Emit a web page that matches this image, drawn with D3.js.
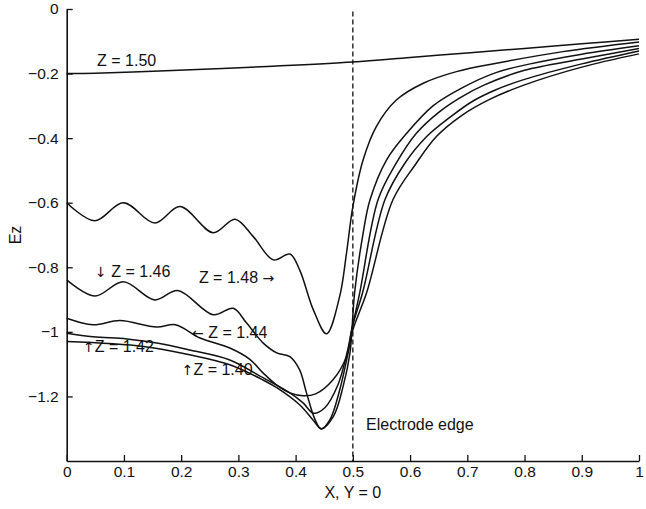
<!DOCTYPE html>
<html>
<head>
<meta charset="utf-8">
<script src="https://cdn.jsdelivr.net/npm/d3@7"></script>
<style>
  html, body { margin: 0; padding: 0; background: #fff; }
  svg { display: block; font-family: "Liberation Sans", Arial, Helvetica, sans-serif; }
</style>
</head>
<body>
<svg id="chart" width="646" height="509"></svg>
<script>
// ---- data ----
const xTicks = [0, 0.1, 0.2, 0.3, 0.4, 0.5, 0.6, 0.7, 0.8, 0.9, 1];
const yTicks = [0, -0.2, -0.4, -0.6, -0.8, -1, -1.2];
const electrodeEdge = 0.5;

const x150 = [0, 0.05, 0.15, 0.25, 0.35, 0.5, 0.6, 0.7, 0.8, 0.9, 1.0];
const y150 = [-0.200, -0.199, -0.193, -0.186, -0.178, -0.164, -0.150, -0.136, -0.122, -0.108, -0.094];

const x148 = [0, 0.049, 0.099, 0.154, 0.198, 0.256, 0.294, 0.326, 0.361, 0.39, 0.407, 0.431, 0.454, 0.477, 0.489, 0.5, 0.518, 0.541, 0.576, 0.623, 0.681, 0.751, 0.867, 1.0];
const y148 = [-0.600, -0.656, -0.600, -0.663, -0.612, -0.693, -0.651, -0.705, -0.777, -0.759, -0.808, -0.932, -1.006, -0.89, -0.755, -0.612, -0.467, -0.364, -0.282, -0.230, -0.194, -0.168, -0.132, -0.102];

const x146 = [0, 0.049, 0.099, 0.154, 0.194, 0.256, 0.291, 0.314, 0.343, 0.367, 0.39, 0.407, 0.419, 0.434, 0.445, 0.466, 0.483, 0.495, 0.503, 0.518, 0.53, 0.559, 0.594, 0.64, 0.69, 0.75, 0.81, 0.9, 1.0];
const y146 = [-0.839, -0.889, -0.845, -0.901, -0.872, -0.947, -0.927, -0.972, -1.034, -1.065, -1.077, -1.118, -1.189, -1.272, -1.301, -1.262, -1.169, -1.065, -0.88, -0.694, -0.591, -0.467, -0.385, -0.30, -0.245, -0.197, -0.170, -0.140, -0.114];

const x144 = [0, 0.046, 0.093, 0.157, 0.19, 0.233, 0.285, 0.320, 0.343, 0.367, 0.390, 0.413, 0.435, 0.465, 0.489, 0.498, 0.512, 0.544, 0.575, 0.611, 0.65, 0.687, 0.73, 0.8, 0.9, 1.0];
const y144 = [-0.958, -0.978, -0.965, -0.985, -0.978, -1.019, -1.050, -1.085, -1.127, -1.165, -1.189, -1.198, -1.192, -1.149, -1.076, -0.994, -0.879, -0.591, -0.48, -0.385, -0.32, -0.275, -0.235, -0.19, -0.155, -0.122];

const x142 = [0, 0.046, 0.105, 0.16, 0.215, 0.285, 0.343, 0.390, 0.413, 0.431, 0.451, 0.474, 0.491, 0.5, 0.517, 0.556, 0.59, 0.629, 0.67, 0.71, 0.75, 0.8, 0.9, 1.0];
const y142 = [-1.004, -1.015, -1.022, -1.035, -1.056, -1.087, -1.142, -1.189, -1.220, -1.252, -1.235, -1.164, -1.056, -0.978, -0.879, -0.591, -0.48, -0.395, -0.335, -0.285, -0.25, -0.218, -0.17, -0.130];

const x140 = [0, 0.134, 0.215, 0.285, 0.343, 0.367, 0.407, 0.430, 0.445, 0.46, 0.477, 0.491, 0.5, 0.524, 0.570, 0.61, 0.646, 0.69, 0.739, 0.8, 0.9, 1.0];
const y140 = [-1.030, -1.045, -1.071, -1.102, -1.149, -1.173, -1.226, -1.272, -1.300, -1.272, -1.180, -1.071, -0.994, -0.879, -0.591, -0.48, -0.395, -0.33, -0.28, -0.235, -0.18, -0.139];

const seriesNames = ["Z = 1.50", "Z = 1.48", "Z = 1.46", "Z = 1.44", "Z = 1.42", "Z = 1.40"];
const seriesX = [x150, x148, x146, x144, x142, x140];
const seriesY = [y150, y148, y146, y144, y142, y140];

// annotation pieces: [arrow before, text, arrow after] and anchor (data units)
const labelBefore = ["", "\u2193 ", "", "\u2190 ", "\u2191", "\u2191", ""];
const labelTexts  = ["Z = 1.50", "Z = 1.46", "Z = 1.48", "Z = 1.44", "Z = 1.42", "Z = 1.40", "Electrode edge"];
const labelAfter  = ["", "", " \u2192", "", "", "", ""];
const labelX = [0.053, 0.0496, 0.231, 0.219, 0.0285, 0.201, 0.523];
const labelY = [-0.176, -0.830, -0.848, -1.019, -1.062, -1.133, -1.303];

// ---- drawing ----
const svg = d3.select("#chart");
const x = d3.scaleLinear().domain([0, 1]).range([66.7, 639]);
const y = d3.scaleLinear().domain([-1.4, 0]).range([461, 9]);
const fmt = d3.format("~g");

const gx = svg.append("g").attr("transform", `translate(0,${y(-1.4)})`)
  .call(d3.axisBottom(x).tickValues(xTicks).tickSizeInner(-6).tickSizeOuter(0).tickPadding(5).tickFormat(fmt));
const gy = svg.append("g").attr("transform", `translate(${x(0)},0)`)
  .call(d3.axisLeft(y).tickValues(yTicks).tickSizeInner(-6).tickSizeOuter(0).tickPadding(8).tickFormat(fmt));
[gx, gy].forEach(g => {
  g.selectAll("text").attr("font-size", 15.5).attr("fill", "#111").attr("font-family", null);
  g.selectAll("line").attr("stroke", "#111").attr("stroke-width", 1.3);
  g.select(".domain").attr("stroke", "#111").attr("stroke-width", 1.6);
});

// electrode edge dashed line
svg.append("line")
  .attr("x1", x(electrodeEdge)).attr("x2", x(electrodeEdge))
  .attr("y1", y(-0.008)).attr("y2", y(-1.4))
  .attr("stroke", "#111").attr("stroke-width", 1.3).attr("stroke-dasharray", "5,3");

const line = d3.line().x(d => x(d[0])).y(d => y(d[1])).curve(d3.curveCatmullRom.alpha(0.5));
seriesX.forEach((xs, i) => {
  const pts = xs.map((v, j) => [v, seriesY[i][j]]);
  svg.append("path").attr("d", line(pts))
    .attr("fill", "none").attr("stroke", "#111").attr("stroke-width", 1.5);
});

labelTexts.forEach((t, i) => {
  const txt = svg.append("text").attr("x", x(labelX[i])).attr("y", y(labelY[i]))
    .attr("font-size", 16).attr("fill", "#111");
  if (labelBefore[i]) txt.append("tspan").attr("font-family", "DejaVu Sans").attr("font-size", 14).text(labelBefore[i]);
  txt.append("tspan").text(t);
  if (labelAfter[i]) txt.append("tspan").attr("font-family", "DejaVu Sans").attr("font-size", 14).text(labelAfter[i]);
});

// axis titles
svg.append("text").attr("x", x(0.5)).attr("y", 498).attr("text-anchor", "middle")
  .attr("font-size", 16).attr("fill", "#111").text("X, Y = 0");
svg.append("text").attr("transform", `translate(21,${(y(0) + y(-1.4)) / 2}) rotate(-90)`)
  .attr("text-anchor", "middle").attr("font-size", 16).attr("fill", "#111").text("Ez");
</script>
</body>
</html>
